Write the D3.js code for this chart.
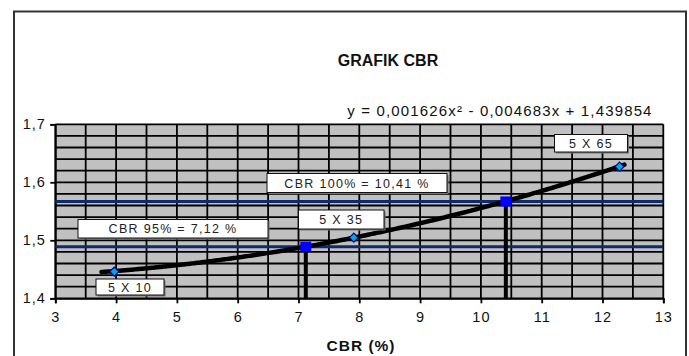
<!DOCTYPE html>
<html><head><meta charset="utf-8">
<script src="https://cdn.jsdelivr.net/npm/d3@7"></script>
<style>body{margin:0;background:#fff}svg{display:block}text{font-family:"Liberation Sans",Arial,sans-serif}</style>
</head><body>
<svg id="c" width="689" height="356"></svg>
<script>
// ---- data ----
const title = "GRAFIK CBR";
const xTitle = "CBR (%)";
const equation = "y = 0,001626x² - 0,004683x + 1,439854";
const fitCoef = [0.001626, -0.004683, 1.439854]; // a, b, c of trendline
const fitRange = [3.76, 12.38];
const pointX = [3.97, 7.91, 12.28];
const pointY = [1.446, 1.5045, 1.627];
const pointLabels = ["5 X 10", "5 X 35", "5 X 65"];
const cbrX = [7.12, 10.41];
const cbrY = [1.489, 1.567];
const cbrLabels = ["CBR 95% = 7,12 %", "CBR 100% = 10,41 %"];
const xTicks = [3,4,5,6,7,8,9,10,11,12,13];
const yTicks = [1.4,1.5,1.6,1.7];

// ---- layout ----
const svg = d3.select("#c");
const L = 55.3, R = 663.3, T = 124.3, B = 298.3;
const x = d3.scaleLinear().domain([3,13]).range([L,R]);
const y = d3.scaleLinear().domain([1.4,1.7]).range([B,T]);
const fmt = v => d3.format(".1f")(v).replace(".", ",");

svg.append("rect").attr("x",14).attr("y",11.5).attr("width",672).attr("height",360)
  .attr("fill","#fff").attr("stroke","#333").attr("stroke-width",2);

svg.append("text").attr("x",388).attr("y",66).attr("text-anchor","middle")
  .attr("font-size",16).attr("font-weight","bold").attr("fill","#111").text(title);
svg.append("text").attr("x",500).attr("y",116).attr("text-anchor","middle")
  .attr("font-size",15).attr("letter-spacing",1.15).attr("fill","#111").text(equation);

// plot background
svg.append("rect").attr("x",L).attr("y",T).attr("width",R-L).attr("height",B-T).attr("fill","#c0c0c0");

// grid
const g = svg.append("g");
const vGrid = d3.range(3, 13.01, 0.5);
const hGrid = d3.range(1.4, 1.7001, 0.02);
g.selectAll(".vg").data(vGrid).join("line")
  .attr("x1",d=>x(d)).attr("x2",d=>x(d)).attr("y1",T).attr("y2",B)
  .attr("stroke","#000").attr("stroke-width",1.8);
g.selectAll(".hg").data(hGrid).join("line")
  .attr("x1",L).attr("x2",R).attr("y1",d=>y(d)).attr("y2",d=>y(d))
  .attr("stroke","#000").attr("stroke-width",1.8);

// axes
const xAxis = d3.axisBottom(x).tickValues(xTicks).tickSize(5).tickFormat(d3.format("d"));
const ax = svg.append("g").attr("transform",`translate(0,${B})`).call(xAxis);
const yAxis = d3.axisLeft(y).tickValues(yTicks).tickSize(5).tickFormat(fmt);
const ay = svg.append("g").attr("transform",`translate(${L},0)`).call(yAxis);
[ax, ay].forEach(a => {
  a.select(".domain").attr("stroke","#000").attr("stroke-width",1.8);
  a.selectAll(".tick line").attr("stroke","#000").attr("stroke-width",1.8);
  a.selectAll(".tick text").attr("font-size",14.5).attr("letter-spacing",1)
    .attr("fill","#111").style("font-family","'Liberation Sans',Arial,sans-serif");
});
ax.selectAll(".tick text").attr("dy","1.07em");
ay.selectAll(".tick text").attr("dx","-0.1em");

svg.append("text").attr("x",361).attr("y",351).attr("text-anchor","middle")
  .attr("font-size",15.5).attr("font-weight","bold").attr("letter-spacing",1)
  .attr("fill","#111").text(xTitle);

// CBR horizontal lines
svg.selectAll(".hl").data(cbrY).join("line")
  .attr("x1",L).attr("x2",R).attr("y1",d=>y(d)).attr("y2",d=>y(d))
  .attr("stroke","#0d2a6b").attr("stroke-width",3);
// vertical drops
svg.selectAll(".vl").data(cbrX).join("line")
  .attr("x1",d=>x(d)).attr("x2",d=>x(d)).attr("y1",(d,i)=>y(cbrY[i])).attr("y2",B)
  .attr("stroke","#000").attr("stroke-width",4);

// trendline
const fx = v => fitCoef[0]*v*v + fitCoef[1]*v + fitCoef[2];
const curvePts = d3.range(fitRange[0], fitRange[1]+0.001, 0.05).map(v => [v, fx(v)]);
svg.append("path").datum(curvePts)
  .attr("d", d3.line().x(d=>x(d[0])).y(d=>y(d[1])).curve(d3.curveMonotoneX))
  .attr("fill","none").attr("stroke","#000").attr("stroke-width",4.5).attr("stroke-linecap","round");

// squares at CBR points
svg.selectAll(".sq").data(cbrX).join("rect")
  .attr("x",d=>x(d)-5.5).attr("y",(d,i)=>y(cbrY[i])-5).attr("width",11).attr("height",10)
  .attr("fill","#0000ff");

// diamonds
svg.selectAll(".dm").data(pointX).join("path")
  .attr("transform",(d,i)=>`translate(${x(d)},${y(pointY[i])})`)
  .attr("d","M0,-4.5L4.5,0L0,4.5L-4.5,0Z")
  .attr("fill","#00a8e0").attr("stroke","#000080").attr("stroke-width",1.2);

// label boxes
const boxes = [
  {t: pointLabels[0], x0: 96, y0: 279, w: 68, h: 16},
  {t: cbrLabels[0], x0: 78, y0: 219.5, w: 190, h: 18.5},
  {t: pointLabels[1], x0: 298.5, y0: 210, w: 85.5, h: 19},
  {t: cbrLabels[1], x0: 267, y0: 173.5, w: 180, h: 19},
  {t: pointLabels[2], x0: 554.5, y0: 134.5, w: 73, h: 17.5}
];
const bg = svg.selectAll(".box").data(boxes).join("g");
bg.append("rect").attr("x",d=>d.x0+1.5).attr("y",d=>d.y0+1.5).attr("width",d=>d.w).attr("height",d=>d.h)
  .attr("fill","#777");
bg.append("rect").attr("x",d=>d.x0).attr("y",d=>d.y0).attr("width",d=>d.w).attr("height",d=>d.h)
  .attr("fill","#fff").attr("stroke","#111").attr("stroke-width",1);
bg.append("text").attr("x",d=>d.x0+d.w/2).attr("y",d=>d.y0+d.h/2+4.5).attr("text-anchor","middle")
  .attr("font-size",12.5).attr("letter-spacing",1.3).attr("fill","#222").text(d=>d.t);
</script>
</body></html>
